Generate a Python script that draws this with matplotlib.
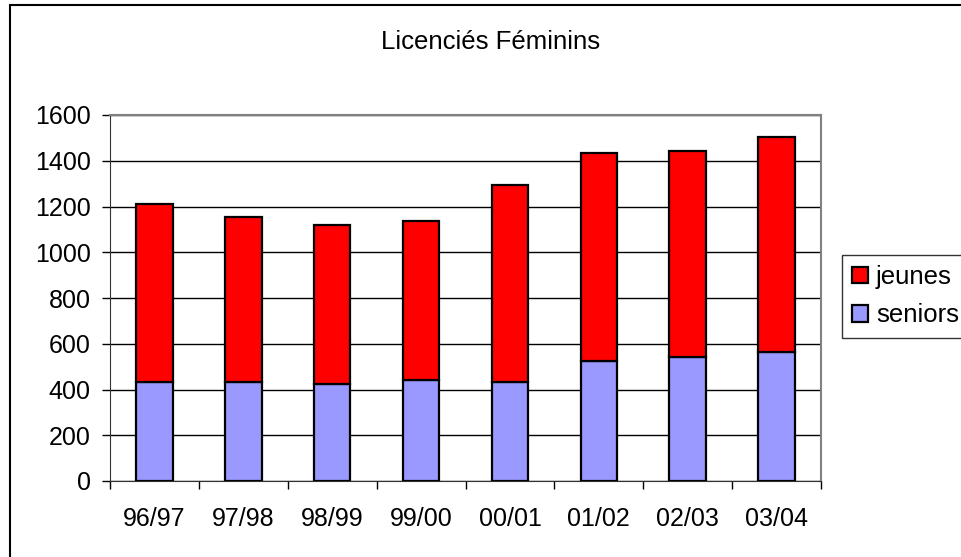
import matplotlib.pyplot as plt
import matplotlib.patches as mpatches
import numpy as np

plt.rcParams['font.family'] = ['Liberation Sans', 'DejaVu Sans']

saisons = ["96/97", "97/98", "98/99", "99/00", "00/01", "01/02", "02/03", "03/04"]
seniors = [433, 433, 426, 440, 433, 524, 541, 564]
jeunes = [780, 720, 692, 696, 859, 911, 901, 939]

W, H = 961, 557
fig = plt.figure(figsize=(W / 100, H / 100), dpi=100)
ax = fig.add_axes([110 / W, 1 - 481 / H, (821 - 110) / W, (481 - 115) / H])

x = np.arange(len(saisons))
b1 = ax.bar(x, seniors, width=0.41, color="#9999FF", edgecolor="black", linewidth=1.6, zorder=3,
            label="seniors")
b2 = ax.bar(x, jeunes, width=0.41, bottom=seniors, color="#FF0000", edgecolor="black",
            linewidth=1.6, zorder=3, label="jeunes")

ax.set_xlim(-0.5, len(saisons) - 0.5)
ax.set_ylim(0, 1600)
ax.set_yticks(np.arange(0, 1601, 200))
ax.yaxis.grid(True, color="black", linewidth=1, zorder=0)
ax.set_xticks(x)
ax.set_xticklabels(saisons)
ax.set_xticks(np.arange(-0.5, len(saisons)), minor=True)
ax.tick_params(axis="x", which="major", length=0, pad=19, labelsize=18)
ax.tick_params(axis="x", which="minor", length=6, width=1, color="black")
ax.tick_params(axis="y", length=6, width=1, pad=8, labelsize=18)

ax.spines["top"].set_color("#808080")
ax.spines["right"].set_color("#808080")
ax.spines["top"].set_linewidth(1.5)
ax.spines["right"].set_linewidth(1.5)
ax.spines["left"].set_color("#333333")
ax.spines["bottom"].set_color("#333333")

fig.text(491 / W, 1 - 42 / H, "Licenciés Féminins", ha="center", va="center", fontsize=18.5)

leg = fig.legend([b2, b1], ["jeunes", "seniors"], loc="upper left",
                 bbox_to_anchor=(842 / W, 1 - 255 / H), fontsize=18.5, frameon=True,
                 fancybox=False, edgecolor="black", handlelength=0.6, handleheight=0.6,
                 handletextpad=0.32, borderpad=0.4, labelspacing=0.55, borderaxespad=0)
leg.get_frame().set_linewidth(1)

frame = mpatches.Rectangle((10 / W, -0.1), 2, 1 - 5 / H + 0.1, transform=fig.transFigure,
                           fill=False, edgecolor="black", linewidth=1.5)
fig.patches.append(frame)

fig.savefig("out.png", dpi=100)
